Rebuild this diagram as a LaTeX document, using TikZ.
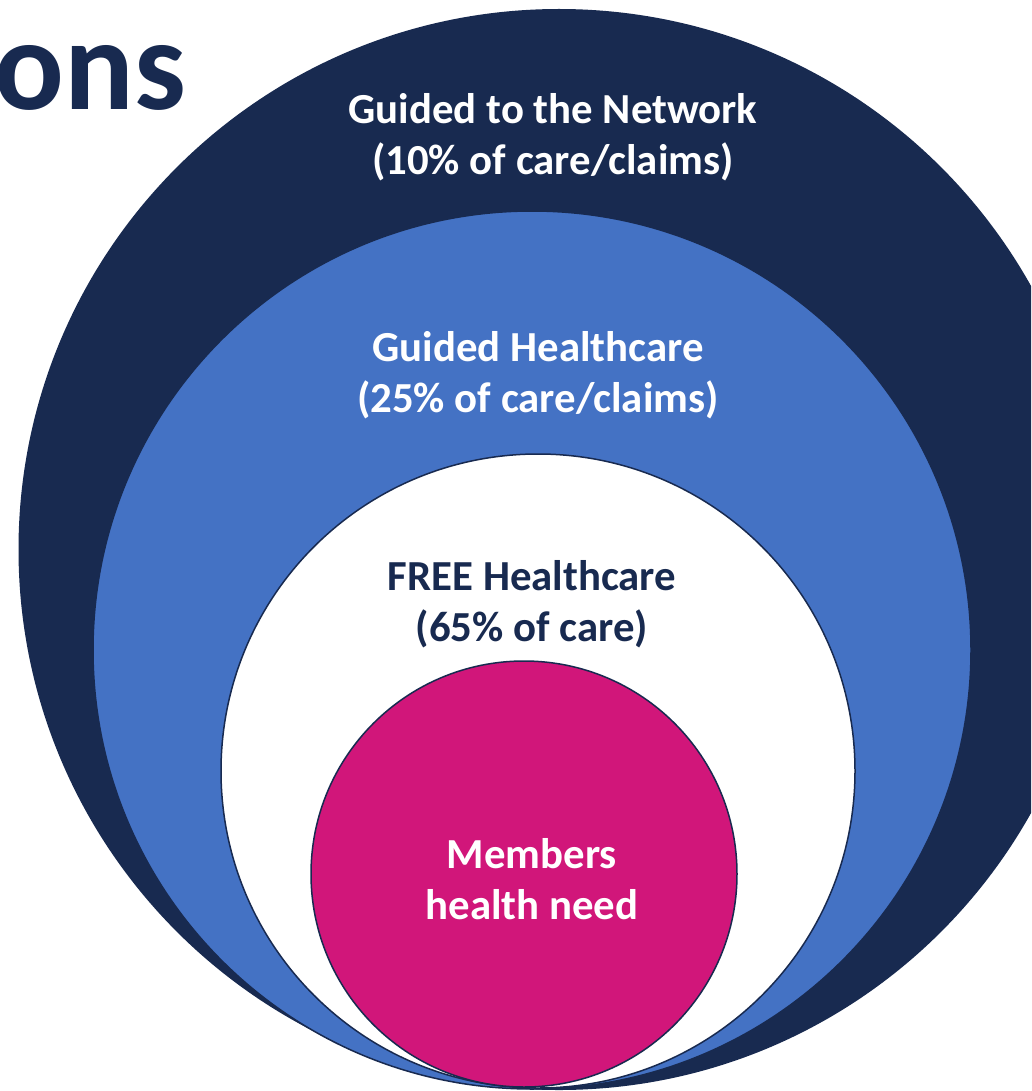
\documentclass[tikz,border=0pt]{standalone}
\usepackage{fontspec}
\setmainfont{Carlito}
\definecolor{navy}{HTML}{182A50}
\definecolor{midblue}{HTML}{4472C4}
\definecolor{magent}{HTML}{D1167A}
\tikzset{
  ring/.style={draw=navy, line width=1.5pt},
  lbl/.style={font=\bfseries\fontsize{42.8}{51}\selectfont, align=center, anchor=base, inner sep=0pt}
}
\begin{document}
\begin{tikzpicture}[x=1pt,y=-1pt]
\useasboundingbox (0,0) rectangle (1031,1091);
\clip (0,0) rectangle (1031,1091);
\fill[white] (0,0) rectangle (1031,1091);
\node[font=\bfseries\fontsize{130}{130}\selectfont, text=navy, anchor=base east, inner sep=0pt] (title) at (186,110) {ons};
\fill[navy] (559,549.5) circle[radius=540.5];
\node[ring, circle, fill=midblue, minimum size=878pt, inner sep=0pt] (blue) at (532,650) {};
\node[ring, circle, fill=white, minimum size=634pt, inner sep=0pt] (wht) at (538,771) {};
\node[ring, circle, fill=magent, minimum size=426pt, inner sep=0pt] (mag) at (524,874) {};
\node[lbl, text=white] (t1) at (553,175) {Guided to the Network\\(10\% of care/claims)};
\node[lbl, text=white] (t2) at (538,412) {Guided Healthcare\\(25\% of care/claims)};
\node[lbl, text=navy] (t3) at (532,641) {FREE Healthcare\\(65\% of care)};
\node[lbl, text=white] (t4) at (532,919) {Members\\health need};
\end{tikzpicture}
\end{document}
